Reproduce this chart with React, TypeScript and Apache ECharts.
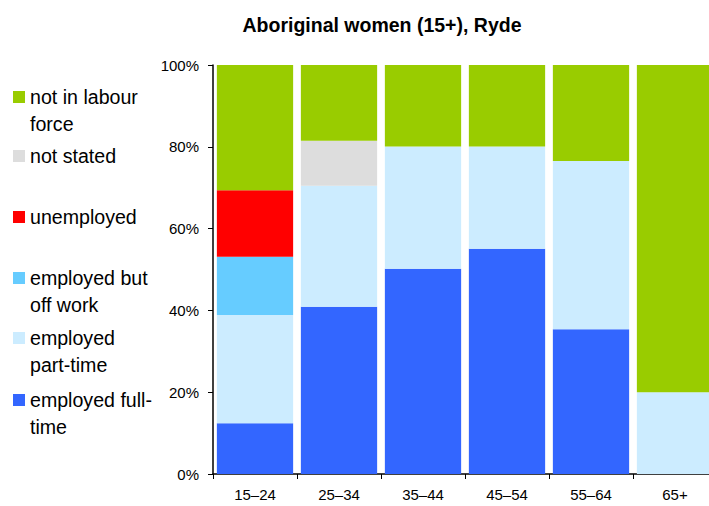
import React, { useEffect, useRef } from "react";
import * as echarts from "echarts";

const categories = ["15–24", "25–34", "35–44", "45–54", "55–64", "65+"];
const yTicks = ["0%", "20%", "40%", "60%", "80%", "100%"];
const fullTime = [12.4, 40.9, 50.2, 55.1, 35.4, 0];
const partTime = [26.5, 29.6, 29.9, 25.0, 41.1, 20.0];
const offWork = [14.2, 0, 0, 0, 0, 0];
const unemployed = [16.3, 0, 0, 0, 0, 0];
const notStated = [0, 11.0, 0, 0, 0, 0];
const notInLabour = [30.6, 18.5, 19.9, 19.9, 23.5, 80.0];

const seriesDefs = [
  { name: "employed full-time", label: "employed full-\ntime", data: fullTime, color: "#3366FF", ly: 400 },
  { name: "employed part-time", label: "employed\npart-time", data: partTime, color: "#CCECFF", ly: 338 },
  { name: "employed but off work", label: "employed but\noff work", data: offWork, color: "#66CCFF", ly: 278 },
  { name: "unemployed", label: "unemployed", data: unemployed, color: "#FF0000", ly: 217 },
  { name: "not stated", label: "not stated", data: notStated, color: "#DDDDDD", ly: 156 },
  { name: "not in labour force", label: "not in labour\nforce", data: notInLabour, color: "#99CC00", ly: 97 },
];

export default function App() {
  const ref = useRef<HTMLDivElement>(null);
  useEffect(() => {
    if (!ref.current) return;
    const chart = echarts.init(ref.current, undefined, { renderer: "svg" });
    const font = "Liberation Sans, Arial, sans-serif";
    const graphics: any[] = [];
    seriesDefs.forEach((s) => {
      graphics.push({
        type: "rect",
        shape: { x: 13, y: s.ly - 6, width: 12, height: 12 },
        style: { fill: s.color },
      });
      graphics.push({
        type: "text",
        x: 30,
        y: s.ly - 14,
        style: {
          text: s.label,
          fill: "#000",
          font: `19.6px ${font}`,
          lineHeight: 27,
          textVerticalAlign: "top",
        },
      });
    });
    chart.setOption({
      animation: false,
      title: {
        text: "Aboriginal women (15+), Ryde",
        left: 377,
        textAlign: "center",
        top: 10,
        textStyle: { fontFamily: font, fontSize: 19.5, fontWeight: "bold", color: "#000" },
      },
      grid: { left: 213, top: 65, width: 504, height: 409, containLabel: false },
      xAxis: {
        type: "category",
        data: categories,
        axisLine: { lineStyle: { color: "#000", width: 1.5 } },
        axisTick: { show: true, length: 5, alignWithLabel: false, lineStyle: { color: "#000" } },
        axisLabel: { fontFamily: font, fontSize: 15, color: "#000", margin: 13 },
      },
      yAxis: {
        type: "value",
        min: 0,
        max: 100,
        interval: 20,
        axisLine: { show: true, lineStyle: { color: "#000", width: 1.5 } },
        axisTick: { show: true, length: 5, lineStyle: { color: "#000" } },
        splitLine: { show: false },
        axisLabel: {
          fontFamily: font,
          fontSize: 15,
          color: "#000",
          margin: 14,
          formatter: (v: number) => yTicks[Math.round(v / 20)],
        },
      },
      graphic: graphics,
      series: seriesDefs.map((s) => ({
        name: s.name,
        type: "bar",
        stack: "total",
        data: s.data,
        barCategoryGap: "9.2%",
        itemStyle: { color: s.color },
      })),
    });
    return () => chart.dispose();
  }, []);
  return (
    <div style={{ position: "fixed", left: 0, top: 0, width: 709, height: 506, overflow: "hidden", background: "#fff" }}>
      <div ref={ref} style={{ width: 722, height: 506 }} />
    </div>
  );
}
